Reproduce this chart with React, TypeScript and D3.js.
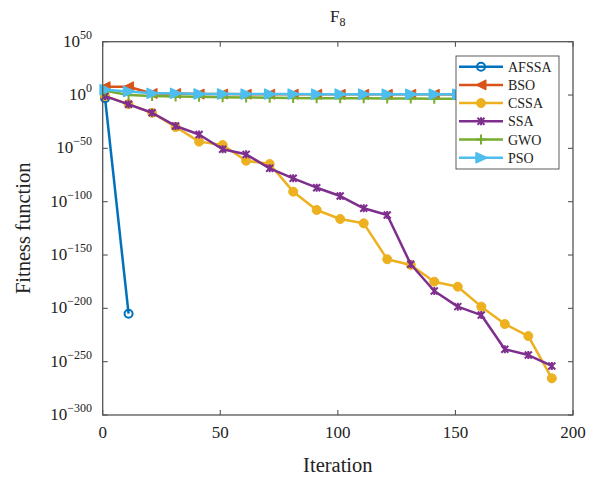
import React from "react";
import * as d3 from "d3";

const iterations = [1, 11, 21, 31, 41, 51, 61, 71, 81, 91, 101, 111, 121, 131, 141, 151, 161, 171, 181, 191];
const afssaIter = [1, 11];
const afssa = [1e-3, 1e-205];
const bso = [6e7, 6e7, 3e1, 3e1, 8, 8, 6, 6, 6, 5, 5, 5, 5, 5, 5, 4, 4, 4, 4, 4];
const cssa = [1e-1, 3e-9, 2e-17, 1e-30, 2e-44, 1.3e-47, 2.5e-62, 2e-65, 2.5e-91, 1.6e-108, 6e-117, 5e-121, 1e-154, 5e-160, 1e-175, 2e-180, 4e-199, 2e-215, 1e-226, 2.5e-266];
const ssa = [1e-1, 2e-9, 2.5e-17, 1e-29, 1e-37, 1.3e-51, 2.5e-56, 2e-69, 8e-79, 1.3e-87, 2e-95, 6e-107, 3e-113, 2e-159, 2e-184, 4e-199, 5e-207, 4e-239, 1.6e-244, 1e-254];
const gwo = [1e4, 1e0, 1e-1, 5e-2, 3e-2, 1e-2, 5e-3, 3e-3, 2e-3, 1e-3, 1e-3, 8e-4, 6e-4, 5e-4, 4e-4, 3e-4, 3e-4, 2e-4, 2e-4, 2e-4];
const pso = [1e5, 2e3, 4e1, 4e1, 1e1, 1e1, 8, 8, 8, 7, 7, 6, 6, 6, 6, 5, 5, 5, 5, 5];

const seriesNames = ["AFSSA", "BSO", "CSSA", "SSA", "GWO", "PSO"];
const seriesColors = ["#0072BD", "#D95319", "#EDB120", "#7E2F8E", "#77AC30", "#4DBEEE"];
const seriesMarkers = ["circle", "triLeft", "dot", "x", "plus", "triRight"];

const xTicks = [0, 50, 100, 150, 200];
const yTickExps = [50, 0, -50, -100, -150, -200, -250, -300];

const W = 598, H = 479;
const L = 102.7, R = 573, T = 41.7, B = 415;
const FONT = "'Liberation Serif', 'Times New Roman', serif";

function Marker({ type, x, y, color }: { type: string; x: number; y: number; color: string }) {
  const s = 5;
  switch (type) {
    case "circle":
      return <circle cx={x} cy={y} r={4} fill="none" stroke={color} strokeWidth={2} />;
    case "dot":
      return <circle cx={x} cy={y} r={4.5} fill={color} stroke={color} strokeWidth={1} />;
    case "triLeft":
      return <path d={`M${x - s},${y} L${x + s},${y - s} L${x + s},${y + s} Z`} fill={color} stroke={color} strokeWidth={1} />;
    case "triRight":
      return <path d={`M${x + s + 1},${y} L${x - s},${y - s} L${x - s},${y + s} Z`} fill={color} stroke={color} strokeWidth={1.5} strokeLinejoin="round" />;
    case "x":
      return <path d={`M${x - 3.5},${y - 3.5} L${x + 3.5},${y + 3.5} M${x - 3.5},${y + 3.5} L${x + 3.5},${y - 3.5} M${x},${y - 4} L${x},${y + 4}`} stroke={color} strokeWidth={2} fill="none" />;
    case "plus":
      return <path d={`M${x - 5},${y} L${x + 5},${y} M${x},${y - 5} L${x},${y + 5}`} stroke={color} strokeWidth={2} fill="none" />;
    default:
      return null;
  }
}

export default function App() {
  const x = d3.scaleLinear().domain([0, 200]).range([L, R]);
  const y = d3.scaleLog().domain([1e-300, 1e50]).range([B, T]);
  const line = d3.line<[number, number]>().x(d => x(d[0])).y(d => y(d[1]));

  const data: [number, number][][] = [
    afssaIter.map((t, i) => [t, afssa[i]] as [number, number]),
    iterations.map((t, i) => [t, bso[i]] as [number, number]),
    iterations.map((t, i) => [t, cssa[i]] as [number, number]),
    iterations.map((t, i) => [t, ssa[i]] as [number, number]),
    iterations.map((t, i) => [t, gwo[i]] as [number, number]),
    iterations.map((t, i) => [t, pso[i]] as [number, number]),
  ];

  const axisColor = "#555";
  const legX = 456, legY = 56, legW = 103, legH = 113;

  return (
    <svg width={W} height={H} style={{ position: "absolute", left: 0, top: 0, background: "#fff" }} fontFamily={FONT}>
      <rect x={0} y={0} width={W} height={H} fill="#fff" />
      {/* title */}
      <text x={(L + R) / 2} y={22} textAnchor="middle" fontSize={17} fill="#222">
        F<tspan fontSize={12} dy={4}>8</tspan>
      </text>

      {/* series */}
      {data.map((d, i) => (
        <g key={seriesNames[i]}>
          <path d={line(d) || ""} fill="none" stroke={seriesColors[i]} strokeWidth={2.5} strokeLinejoin="round" />
          {d.map((p, j) => (
            <Marker key={j} type={seriesMarkers[i]} x={x(p[0])} y={y(p[1])} color={seriesColors[i]} />
          ))}
        </g>
      ))}

      {/* axes box */}
      <rect x={L} y={T} width={R - L} height={B - T} fill="none" stroke={axisColor} strokeWidth={1.3} />
      {xTicks.map(t => (
        <g key={t}>
          <line x1={x(t)} x2={x(t)} y1={B} y2={B - 5} stroke={axisColor} strokeWidth={1.1} />
          <line x1={x(t)} x2={x(t)} y1={T} y2={T + 5} stroke={axisColor} strokeWidth={1.1} />
          <text x={x(t)} y={438} textAnchor="middle" fontSize={17} fill="#222">{t}</text>
        </g>
      ))}
      {yTickExps.map(e => {
        const yy = y(Math.pow(10, e));
        return (
          <g key={e}>
            <line x1={L} x2={L + 5} y1={yy} y2={yy} stroke={axisColor} strokeWidth={1.1} />
            <line x1={R} x2={R - 5} y1={yy} y2={yy} stroke={axisColor} strokeWidth={1.1} />
            <text x={92} y={yy + 5} textAnchor="end" fontSize={17} fill="#222">
              10<tspan fontSize={12} dy={-8}>{e < 0 ? "\u2212" + Math.abs(e) : String(e)}</tspan>
            </text>
          </g>
        );
      })}

      {/* axis labels */}
      <text x={(L + R) / 2} y={472} textAnchor="middle" fontSize={20.5} fill="#222">Iteration</text>
      <text transform={`translate(30,${(T + B) / 2}) rotate(-90)`} textAnchor="middle" fontSize={20.5} fill="#222">Fitness function</text>

      {/* legend */}
      <rect x={legX} y={legY} width={legW} height={legH} fill="#fff" stroke="#333" strokeWidth={0.8} />
      {seriesNames.map((n, i) => {
        const ly = 66.7 + i * 18.2;
        return (
          <g key={n}>
            <line x1={459} x2={503} y1={ly} y2={ly} stroke={seriesColors[i]} strokeWidth={2.5} />
            <Marker type={seriesMarkers[i]} x={481} y={ly} color={seriesColors[i]} />
            <text x={508} y={ly + 5} fontSize={14} fill="#222">{n}</text>
          </g>
        );
      })}
    </svg>
  );
}
